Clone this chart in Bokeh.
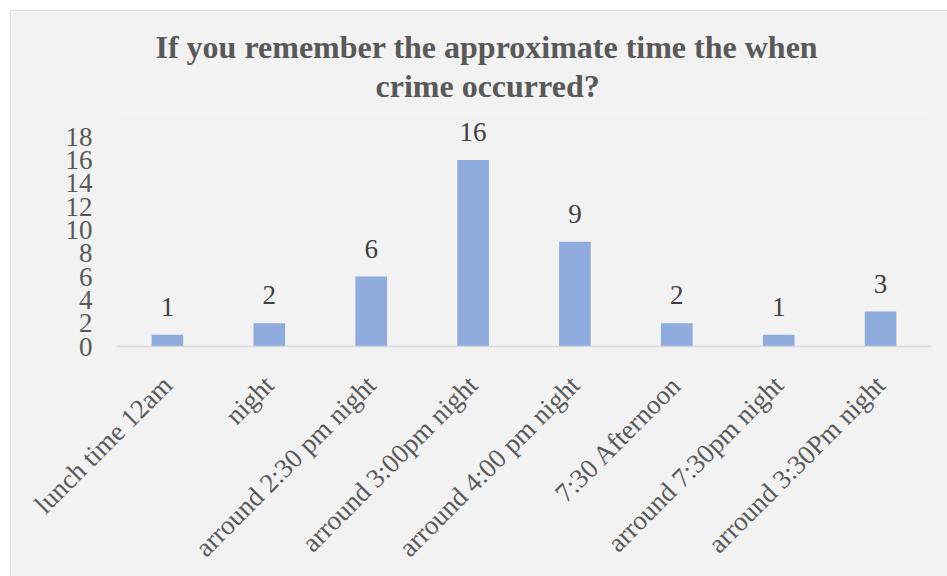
import math
from bokeh.plotting import figure
from bokeh.models import ColumnDataSource, Range1d, FixedTicker, Title
from bokeh.core.properties import value
from bokeh.embed import file_html
from bokeh.resources import INLINE

categories = ["lunch time 12am", "night", "arround 2:30 pm night", "arround 3:00pm night",
              "arround 4:00 pm night", "7:30 Afternoon", "arround 7:30pm night", "arround 3:30Pm night"]
counts = [1, 2, 6, 16, 9, 2, 1, 3]
y_ticks = [0, 2, 4, 6, 8, 10, 12, 14, 16, 18]
title_line1 = "If you remember the approximate time the when"
title_line2 = "crime occurred?"

src = ColumnDataSource(dict(cat=categories, val=counts, lab=[str(v) for v in counts]))

FONT = "Liberation Serif"
BG = "#f2f2f2"

p = figure(x_range=categories, y_range=Range1d(0, 20), width=937, height=566,
           output_backend="svg", toolbar_location=None, title=None,
           min_border_left=105, min_border_right=17, min_border_top=102, min_border_bottom=231)
p.styles = {"margin-left": "10px", "margin-top": "10px",
            "border-left": "1px solid #d9d9d9", "border-top": "1px solid #d9d9d9"}
p.background_fill_color = BG
p.border_fill_color = BG
p.outline_line_color = None
p.xgrid.grid_line_color = None
p.ygrid.grid_line_color = None

for txt, off, stand in ((title_line2, 259, 19), (title_line1, 39, -16)):
    p.add_layout(Title(text=txt, align="left", offset=off, standoff=stand, text_font=FONT,
                       text_font_style="bold", text_font_size="32px", text_color="#595959"), "above")

p.vbar(x="cat", top="val", width=0.31, source=src, fill_color="#8faadc", line_color=None)
p.text(x="cat", y="val", text="lab", source=src, text_align="center", text_baseline="alphabetic",
       y_offset=-28, text_font=value(FONT), text_font_size="27px", text_color="#404040")

p.yaxis.ticker = FixedTicker(ticks=y_ticks)
p.yaxis.axis_line_color = None
p.yaxis.major_tick_line_color = None
p.yaxis.minor_tick_line_color = None
p.yaxis.major_tick_out = 0
p.yaxis.major_label_standoff = 24

p.xaxis.axis_line_color = "#d9d9d9"
p.xaxis.axis_line_width = 1.5
p.xaxis.major_tick_line_color = None
p.xaxis.major_tick_out = 0
p.xaxis.major_label_orientation = math.pi / 4
p.xaxis.major_label_standoff = 34

for ax in (p.xaxis, p.yaxis):
    ax.major_label_text_font = FONT
    ax.major_label_text_font_size = "27px"
    ax.major_label_text_color = "#595959"

open("out.html", "w").write(file_html(p, INLINE))
